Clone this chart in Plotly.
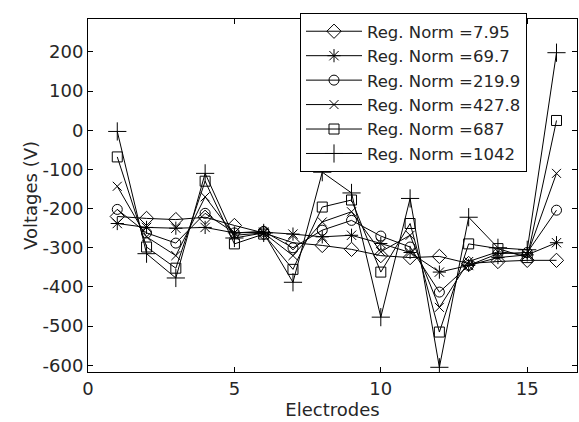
import plotly.graph_objects as go

electrodes = list(range(1, 17))

norm_7_95 = [-220, -225, -228, -222, -243, -262, -287, -294, -304, -320, -325, -322, -340, -335, -332, -332]
norm_69_7 = [-238, -248, -250, -248, -262, -260, -265, -272, -268, -289, -312, -362, -345, -325, -318, -287]
norm_219_9 = [-202, -262, -288, -212, -262, -258, -300, -255, -230, -270, -298, -413, -345, -315, -312, -204]
norm_427_8 = [-143, -272, -320, -170, -268, -262, -320, -234, -208, -310, -268, -452, -335, -310, -318, -110]
norm_687 = [-68, -298, -352, -130, -290, -265, -355, -196, -178, -362, -238, -515, -290, -302, -325, 25]
norm_1042 = [-3, -315, -377, -110, -275, -262, -388, -107, -160, -477, -174, -605, -222, -300, -305, 198]

y_tick_values = [200, 100, 0, -100, -200, -300, -400, -500, -600]
y_tick_labels = ["200", "100", "0", "-100", "-200", "-300", "-400", "-500", "-600"]
x_tick_values = [0, 5, 10, 15]

series = [
    ("Reg. Norm =7.95", norm_7_95, "diamond-open", 11),
    ("Reg. Norm =69.7", norm_69_7, "asterisk-open", 11),
    ("Reg. Norm =219.9", norm_219_9, "circle-open", 10),
    ("Reg. Norm =427.8", norm_427_8, "x-thin-open", 9),
    ("Reg. Norm =687", norm_687, "square-open", 10),
    ("Reg. Norm =1042", norm_1042, "cross-thin-open", 13),
]

fig = go.Figure()
for name, vals, sym, sz in series:
    fig.add_trace(go.Scatter(
        x=electrodes, y=vals, name=name, mode="lines+markers",
        line=dict(color="black", width=1),
        marker=dict(symbol=sym, size=sz, color="black",
                    line=dict(color="black", width=1)),
    ))

font = "DejaVu Sans, Verdana, sans-serif"
fs = 18
fig.update_layout(
    width=579, height=422,
    margin=dict(l=88, r=2, t=19, b=50, autoexpand=False),
    paper_bgcolor="white", plot_bgcolor="white",
    font=dict(family=font, size=fs, color="#262626"),
    showlegend=True,
    legend=dict(
        xref="container", yref="container",
        x=300 / 579, y=1 - 13 / 422, xanchor="left", yanchor="top",
        bgcolor="white", bordercolor="black", borderwidth=1,
        font=dict(family=font, size=16.5, color="#262626"),
        tracegroupgap=0, itemwidth=56,
    ),
)
fig.update_xaxes(
    range=[0, 16.7], tickvals=x_tick_values,
    ticks="inside", ticklen=5, tickcolor="black",
    showline=True, linecolor="black", linewidth=1, mirror="ticks",
    showgrid=False, zeroline=False, automargin=False,
    title=dict(text="Electrodes", standoff=2, font=dict(size=fs)),
    tickfont=dict(size=fs),
)
fig.update_yaxes(
    range=[-617, 284], tickvals=y_tick_values, ticktext=y_tick_labels,
    ticks="inside", ticklen=5, tickcolor="black",
    showline=True, linecolor="black", linewidth=1, mirror="ticks",
    showgrid=False, zeroline=False, automargin=False,
    title=dict(text="Voltages (V)", standoff=0, font=dict(size=fs)),
    tickfont=dict(size=fs),
)

fig.write_html(
    "out.html",
    config={"displayModeBar": False},
    post_script="document.body.style.margin='0';document.body.style.overflow='hidden';",
)
